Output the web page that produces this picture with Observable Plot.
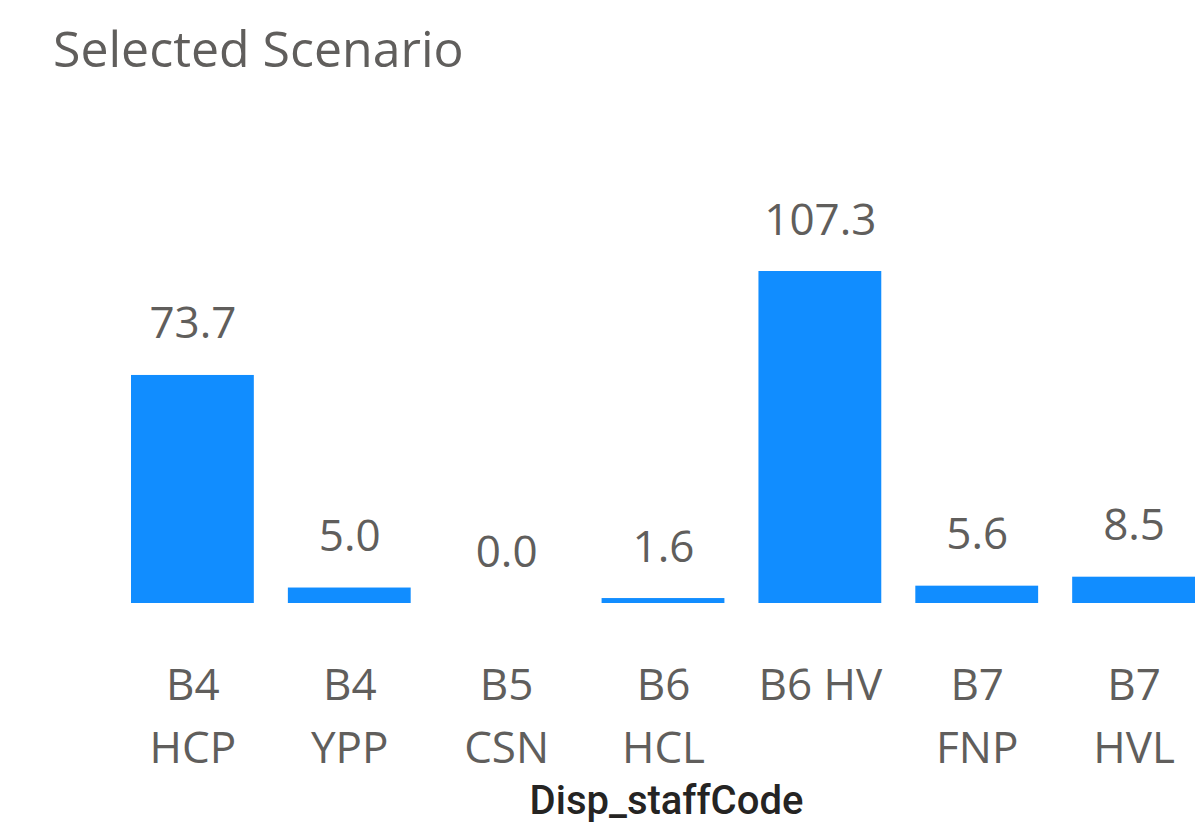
<!DOCTYPE html>
<html><head><meta charset="utf-8">
<script src="https://cdn.jsdelivr.net/npm/d3@7"></script>
<script src="https://cdn.jsdelivr.net/npm/@observablehq/plot@0.6"></script>
<style>
body{margin:0;background:#fff;width:1203px;height:834px;overflow:hidden;}
#title{font-family:"Open Sans";font-size:50px;line-height:50px;color:#605E5C;padding:23px 0 0 53px;height:77px;box-sizing:content-box;white-space:nowrap;}
#chart svg{display:block;overflow:visible;}
</style></head><body>
<div id="title">Selected Scenario</div>
<div id="chart"></div>
<script>
const categories = ["B4 HCP","B4 YPP","B5 CSN","B6 HCL","B6 HV","B7 FNP","B7 HVL"];
const values = [73.7, 5.0, 0.0, 1.6, 107.3, 5.6, 8.5];
const tickLabels = ["B4\nHCP","B4\nYPP","B5\nCSN","B6\nHCL","B6 HV","B7\nFNP","B7\nHVL"];
const axisTitle = "Disp_staffCode";

const data = categories.map((c, i) => ({category: c, value: values[i]}));
const labelMap = new Map(categories.map((c, i) => [c, tickLabels[i]]));

const chart = Plot.plot({
  width: 1203,
  height: 734,
  marginLeft: 131,
  marginRight: 8,
  marginTop: 171,
  marginBottom: 231,
  style: {fontFamily: "Open Sans", background: "#fff", overflow: "visible"},
  x: {domain: categories, paddingInner: 0.217, paddingOuter: 0, round: false, axis: null},
  y: {domain: [0, 107.3], axis: null},
  marks: [
    Plot.barY(data, {x: "category", y: "value", fill: "#118DFF"}),
    Plot.text(data, {x: "category", y: "value", text: d => d.value.toFixed(1), dy: -37, lineAnchor: "bottom", fontSize: 44, fill: "#605E5C"}),
    Plot.axisX({tickSize: 0, tickPadding: 52, fontSize: 44, lineHeight: 1.43, fill: "#605E5C", tickFormat: d => labelMap.get(d), label: null}),
    Plot.text([axisTitle], {frameAnchor: "bottom", dx: 3, dy: 210, text: d => d, lineAnchor: "bottom", fontSize: 40, fontWeight: 500, fill: "#252423", fontFamily: "Roboto"})
  ]
});
document.getElementById("chart").appendChild(chart);
</script>
</body></html>
